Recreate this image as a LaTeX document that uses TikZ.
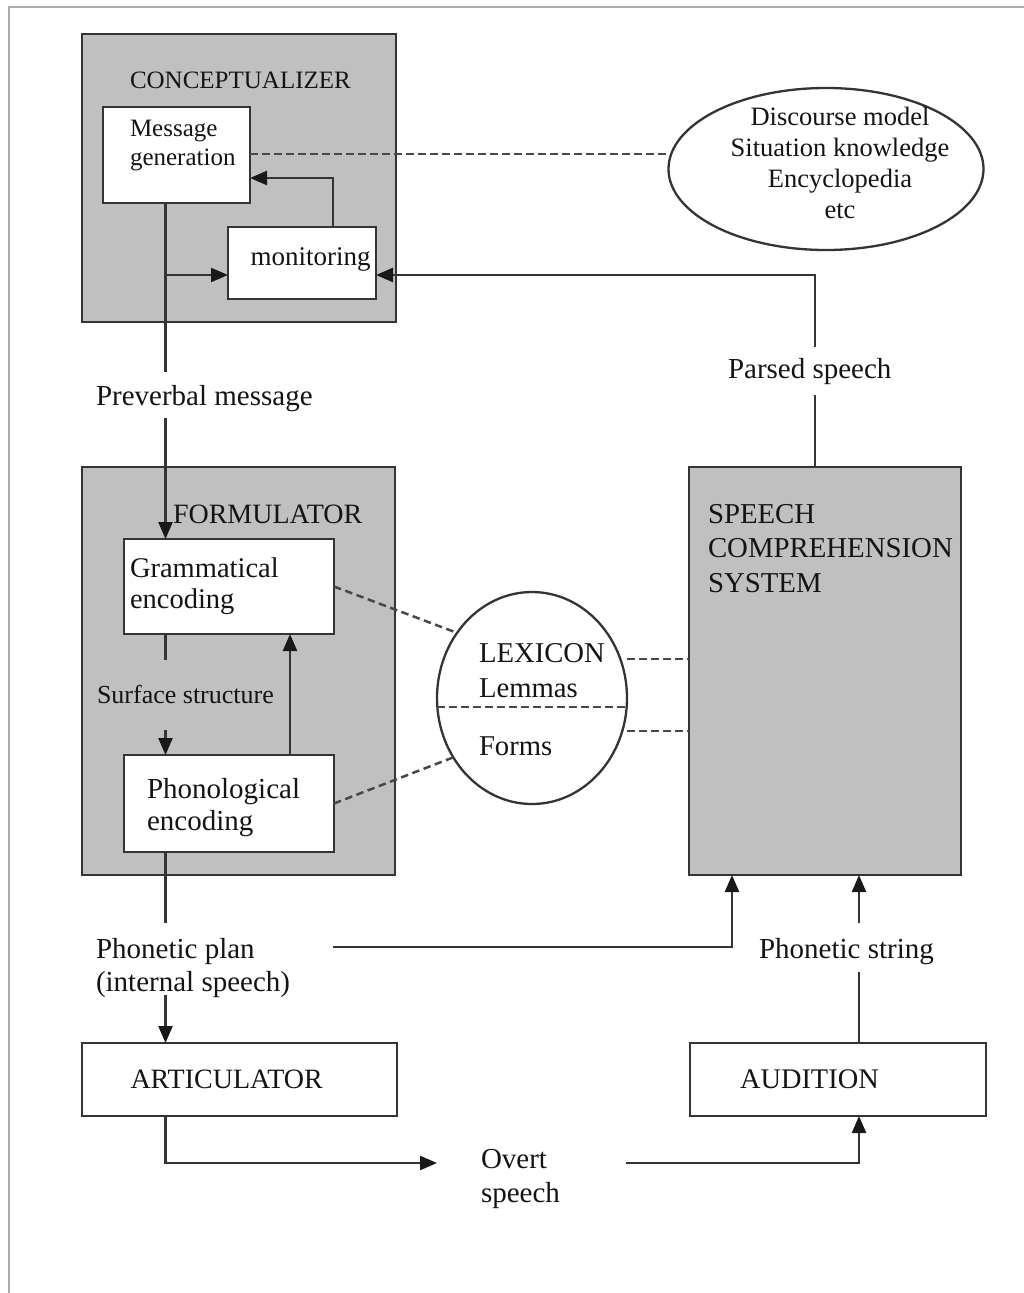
\documentclass[tikz,border=0pt]{standalone}
\usepackage{fontspec}
\setmainfont{Liberation Serif}
\usetikzlibrary{arrows.meta,shapes.geometric}
\definecolor{shade}{RGB}{192,192,192}
\definecolor{framegray}{RGB}{170,170,170}
\definecolor{edge}{RGB}{52,52,52}
\newcommand\txtsize[2]{\fontsize{#1pt}{#2pt}\selectfont}

\begin{document}
\begin{tikzpicture}[x=1pt,y=-1pt,
  module/.style={rectangle, draw=edge, line width=2.8pt, fill=shade,
    inner sep=0, outer sep=0, anchor=north west},
  proc/.style={rectangle, draw=edge, line width=2.6pt, fill=white,
    inner sep=0, outer sep=0, anchor=north west},
  oval/.style={ellipse, draw=edge, line width=2.3pt, fill=white,
    inner sep=0, outer sep=0},
  conn/.style={draw=edge, line width=2.4pt},
  arr/.style={conn, -{Triangle[length=17pt,width=14pt,color=black!90]}},
  dashline/.style={draw=edge!90, line width=2.5pt, dash pattern=on 7.5pt off 4.5pt},
  txt/.style={inner sep=0, outer sep=0, text=black!92},
]
% page and its partial frame
\fill[white] (0,0) rectangle (1024,1293);
\useasboundingbox (0,0) rectangle (1024,1293);
\draw[framegray, line width=2.5pt] (9,1293) -- (9,7) -- (1024,7);

% modules and processes
\node[module, minimum width=314pt, minimum height=288pt] (concept) at (82,34) {};
\node[proc, minimum width=147pt, minimum height=96pt] (msg) at (103,107) {};
\node[proc, minimum width=148pt, minimum height=72pt] (mon) at (228,227) {};
\node[oval, minimum width=315pt, minimum height=162pt] (disc) at (826,169) {};
\node[module, minimum width=313pt, minimum height=408pt] (form) at (82,467) {};
\node[proc, minimum width=210pt, minimum height=95pt] (gram) at (124,539) {};
\node[proc, minimum width=210pt, minimum height=97pt] (phon) at (124,755) {};
\node[oval, minimum width=190pt, minimum height=212pt] (lex) at (532,698) {};
\node[module, minimum width=272pt, minimum height=408pt] (scs) at (689,467) {};
\node[proc, minimum width=315pt, minimum height=73pt] (art) at (82,1043) {};
\node[proc, minimum width=296pt, minimum height=73pt] (aud) at (690,1043) {};

% bend points and free ends of the connectors
\coordinate (pvTop) at (165.5,372);
\coordinate (pvBot) at (165.5,418);
\coordinate (tap) at (165.5,275);
\coordinate (fbk) at (333,178);
\coordinate (dsh) at (0,154);
\coordinate (psBot) at (815,395);
\coordinate (psTop) at (815,347);
\coordinate (ssTop) at (165.5,660);
\coordinate (ssBot) at (165.5,730);
\coordinate (upx) at (290,0);
\coordinate (lm) at (0,707);
\coordinate (lr1) at (0,659);
\coordinate (lr2) at (0,731);
\coordinate (ppTop) at (165.5,923);
\coordinate (ppBot) at (165.5,995);
\coordinate (ppR) at (333,947);
\coordinate (scsIn) at (732,0);
\coordinate (ovL) at (437,1163);
\coordinate (ovR) at (626,1163);
\coordinate (audx) at (859,0);
\coordinate (psgBot) at (859,972);
\coordinate (psgTop) at (859,923);

% conceptualizer
\draw[conn] (msg.south -| tap) -- (pvTop);
\draw[arr] (tap) -- (mon.west |- tap);
\draw[arr] (mon.north -| fbk) -- (fbk) -- (msg.east |- fbk);
\draw[dashline] (msg.east |- dsh) -- (disc.west |- dsh);
\draw[conn] (scs.north -| psBot) -- (psBot);
\draw[arr] (psTop) |- (mon.east |- tap);

% formulator and lexicon
\draw[arr] (pvBot) -- (gram.north -| pvBot);
\draw[conn] (gram.south -| ssTop) -- (ssTop);
\draw[arr] (ssBot) -- (phon.north -| ssBot);
\draw[arr] (phon.north -| upx) -- (gram.south -| upx);
\draw[dashline] (gram.east) -- (lex.139);
\draw[dashline] (phon.east) -- (lex.217);
\draw[dashline] (lex.west |- lm) -- (lex.east |- lm);
\draw[dashline] (lex.east |- lr1) -- (scs.west |- lr1);
\draw[dashline] (lex.east |- lr2) -- (scs.west |- lr2);

% articulation and audition
\draw[conn] (phon.south -| ppTop) -- (ppTop);
\draw[arr] (ppBot) -- (art.north -| ppBot);
\draw[arr] (ppR) -| (scs.south -| scsIn);
\draw[arr] (art.south -| tap) |- (ovL);
\draw[arr] (ovR) -| (aud.south -| audx);
\draw[conn] (aud.north -| audx) -- (psgBot);
\draw[arr] (psgTop) -- (scs.south -| audx);

% texts
\node[txt, anchor=base west, font=\txtsize{25}{29}] (tconcept) at (130,88) {CONCEPTUALIZER};
\node[txt, anchor=north west, align=left, font=\txtsize{25}{29}] (tmsg) at (130,115.7)
  {\strut Message\\\strut generation};
\node[txt, anchor=base west, font=\txtsize{27}{31}] (tmon) at (250.5,265) {monitoring};
\node[txt, anchor=north, align=center, font=\txtsize{26.5}{31}] (tdisc) at (840,103.3)
  {\strut Discourse model\\\strut Situation knowledge\\\strut Encyclopedia\\\strut etc};
\node[txt, anchor=base west, font=\txtsize{29}{33}] (tpv) at (96,405) {Preverbal message};
\node[txt, anchor=base west, font=\txtsize{29}{33}] (tps) at (728,378) {Parsed speech};
\node[txt, anchor=base west, font=\txtsize{28}{32}] (tform) at (173,523) {FORMULATOR};
\node[txt, anchor=north west, align=left, font=\txtsize{28.5}{31.5}] (tgram) at (130,555)
  {\strut Grammatical\\\strut encoding};
\node[txt, anchor=base west, font=\txtsize{26}{30}] (tss) at (97,703) {Surface structure};
\node[txt, anchor=north west, align=left, font=\txtsize{29}{32}] (tphon) at (147,775.6)
  {\strut Phonological\\\strut encoding};
\node[txt, anchor=north west, align=left, font=\txtsize{28.7}{35.5}] (tlex) at (479,637.2)
  {\strut LEXICON\\\strut Lemmas};
\node[txt, anchor=base west, font=\txtsize{28.7}{33}] (tforms) at (479,755) {Forms};
\node[txt, anchor=north west, align=left, font=\txtsize{28.8}{34.5}] (tscs) at (708,498.9)
  {\strut SPEECH\\\strut COMPREHENSION\\\strut SYSTEM};
\node[txt, anchor=north west, align=left, font=\txtsize{29}{33}] (tpp) at (96,934.9)
  {\strut Phonetic plan\\\strut (internal speech)};
\node[txt, anchor=base west, font=\txtsize{29}{33}] (tpstr) at (759,958) {Phonetic string};
\node[txt, anchor=base west, font=\txtsize{28}{32}] (tart) at (130.5,1088) {ARTICULATOR};
\node[txt, anchor=base west, font=\txtsize{28.4}{32}] (taud) at (740,1088) {AUDITION};
\node[txt, anchor=north west, align=left, font=\txtsize{29}{34}] (tovert) at (481,1144.2)
  {\strut Overt\\\strut speech};
\end{tikzpicture}
\end{document}
